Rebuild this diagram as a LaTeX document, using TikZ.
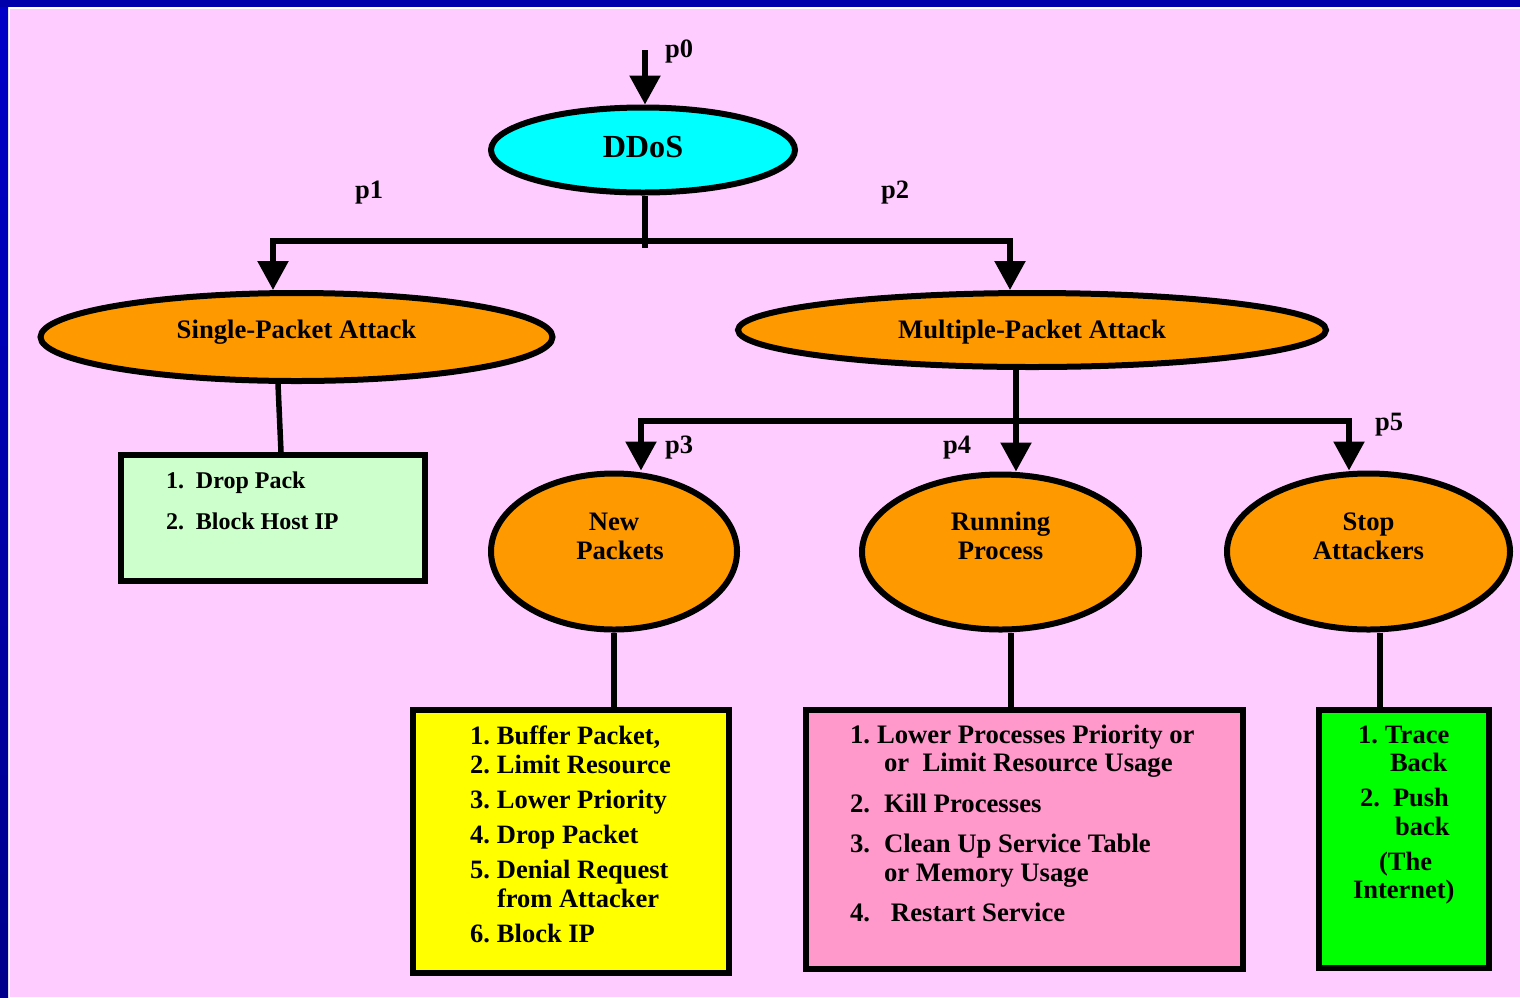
\documentclass[tikz,border=0pt]{standalone}
\usepackage{fontspec}
\setmainfont{Liberation Serif}
\usetikzlibrary{shapes.geometric,arrows.meta}
\definecolor{bgpink}{HTML}{FFCCFF}
\definecolor{topblue}{HTML}{0000AA}
\definecolor{lefttop}{HTML}{0000C8}
\definecolor{leftbot}{HTML}{00008C}
\definecolor{ddoscyan}{HTML}{00FFFF}
\definecolor{ovalorange}{HTML}{FF9900}
\definecolor{mintfill}{HTML}{CCFFCC}
\definecolor{yellowfill}{HTML}{FFFF00}
\definecolor{pinkfill}{HTML}{FF99CC}
\definecolor{greenfill}{HTML}{00FF00}
\newcommand{\numl}[3]{\makebox[#1][l]{#2}#3\par}
\newcommand{\ovtext}[2]{\raisebox{#1}[0pt][0pt]{\begin{tabular}[b]{@{}c@{}}#2\end{tabular}}}
\begin{document}
\begin{tikzpicture}[x=1pt,y=-1pt,
  line/.style={line width=5.5pt},
  arr/.style={line width=5.5pt,-{Triangle[width=30pt,length=29pt]}},
  oval/.style={ellipse,draw,line width=6pt,inner sep=0pt,fill=ovalorange,
    font=\bfseries\fontsize{26.7}{29}\selectfont},
  boxn/.style={draw,line width=6pt,inner sep=0pt},
  plab/.style={anchor=base west,inner sep=0pt,font=\bfseries\fontsize{26.5}{26.5}\selectfont}]
\useasboundingbox (0,0) rectangle (1520,997);
% background and frame
\fill[bgpink] (0,0) rectangle (1520,997);
\fill[white] (0,0) rectangle (1520,9);
\fill[white] (0,0) rectangle (10,997);
\fill[topblue] (0,0) rectangle (1520,7);
\shade[top color=lefttop,bottom color=leftbot] (0,7) rectangle (8,997);

% ellipses
\node[oval,fill=ddoscyan,minimum width=304pt,minimum height=85pt,
  font=\bfseries\fontsize{32.2}{32}\selectfont] (ddos) at (643,150) {\ovtext{-7pt}{DDoS}};
\node[oval,minimum width=512pt,minimum height=88pt] (single) at (296.5,337) {\ovtext{-1.5pt}{Single-Packet Attack}};
\node[oval,minimum width=588pt,minimum height=74pt] (multi) at (1032,330) {\ovtext{-8pt}{Multiple-Packet Attack}};
\node[oval,minimum width=246pt,minimum height=156pt] (newp) at (614,551.5) {\ovtext{-7.5pt}{New\\\makebox[0pt]{\hspace*{12pt}Packets}}};
\node[oval,minimum width=277pt,minimum height=155pt] (runp) at (1000.5,552) {\ovtext{-7pt}{Running\\Process}};
\node[oval,minimum width=283pt,minimum height=156pt] (stopa) at (1368.5,551.5) {\ovtext{-7.5pt}{Stop\\Attackers}};

% boxes
\node[boxn,fill=mintfill] (lb) at (273,518) {\begin{minipage}[c][126pt][t]{304pt}
\fontsize{24}{29}\selectfont\bfseries\leftskip=45pt\parindent=0pt
\vspace*{13pt}
\rule{0pt}{20pt}\numl{30pt}{1.}{Drop Pack}
\vspace{12pt}
\numl{30pt}{2.}{Block Host IP}
\end{minipage}};

\node[boxn,fill=yellowfill] (yb) at (571,841.5) {\begin{minipage}[c][263pt][t]{316pt}
\fontsize{26.5}{29}\selectfont\bfseries\leftskip=57pt\parindent=0pt
\vspace*{14pt}
\rule{0pt}{20pt}\numl{27pt}{1.}{Buffer Packet,}
\numl{27pt}{2.}{Limit Resource}
\vspace{6pt}
\numl{27pt}{3.}{Lower Priority}
\vspace{6pt}
\numl{27pt}{4.}{Drop Packet}
\vspace{6pt}
\numl{27pt}{5.}{Denial Request}
\hspace*{27pt}from Attacker\par
\vspace{6pt}
\numl{27pt}{6.}{Block IP}
\end{minipage}};

\node[boxn,fill=pinkfill] (pb) at (1024.5,839.5) {\begin{minipage}[c][259pt][t]{437pt}
\fontsize{26.7}{28.5}\selectfont\bfseries\leftskip=44pt\parindent=0pt
\vspace*{13pt}
\rule{0pt}{20pt}\numl{27pt}{1.}{Lower Processes Priority or}
\hspace*{34pt}or~~Limit Resource Usage\par
\vspace{12pt}
\numl{34pt}{2.}{Kill Processes}
\vspace{12pt}
\numl{34pt}{3.}{Clean Up Service Table}
\hspace*{34pt}or Memory Usage\par
\vspace{12pt}
\numl{41pt}{4.}{Restart Service}
\end{minipage}};

\node[boxn,fill=greenfill] (gb) at (1404,839) {\begin{minipage}[c][258pt][t]{170pt}
\fontsize{26.5}{28.5}\selectfont\bfseries\parindent=0pt
\vspace*{13pt}
\rule{0pt}{20pt}\hspace*{39pt}\makebox[27pt][l]{1.}Trace\par
\hspace*{71pt}Back\par
\vspace{6.5pt}
\hspace*{41pt}\makebox[33pt][l]{2.}Push\par
\hspace*{76pt}back\par
\vspace{6.5pt}
\hspace*{60pt}(The\par
\hspace*{34pt}Internet)\par
\end{minipage}};

% connectors
\coordinate (p0s) at (645,50);
\draw[arr] (p0s) -- (p0s |- ddos.north);
\coordinate (j0) at (645,248);
\coordinate (jh) at (645,241);
\coordinate (c1) at (273,241);
\coordinate (c2) at (1010,241);
\draw[line] (j0 |- ddos.south) -- (j0);
\draw[arr] (jh) -| (c1 |- single.north);
\draw[arr] (jh) -| (c2 |- multi.north);

\coordinate (s1) at (278,0);
\coordinate (s2) at (281,0);
\draw[line] (s1 |- single.south) -- (s2 |- lb.north);

\coordinate (m0) at (1016,421);
\coordinate (a3) at (641,421);
\coordinate (a5) at (1349,421);
\draw[arr] (m0 |- multi.south) -- (m0 |- runp.north);
\draw[arr] (m0) -| (a3 |- newp.north);
\draw[arr] (m0) -| (a5 |- stopa.north);

\coordinate (b4) at (1011,0);
\coordinate (b5) at (1380,0);
\draw[line] (newp.south) -- (newp.south |- yb.north);
\draw[line] (b4 |- runp.south) -- (b4 |- pb.north);
\draw[line] (b5 |- stopa.south) -- (b5 |- gb.north);

% labels
\node[plab] (lp0) at (665,57) {p0};
\node[plab] (lp1) at (355,198) {p1};
\node[plab] (lp2) at (881,198) {p2};
\node[plab] (lp3) at (665,453) {p3};
\node[plab] (lp4) at (943,453) {p4};
\node[plab] (lp5) at (1375,430) {p5};
\end{tikzpicture}
\end{document}
